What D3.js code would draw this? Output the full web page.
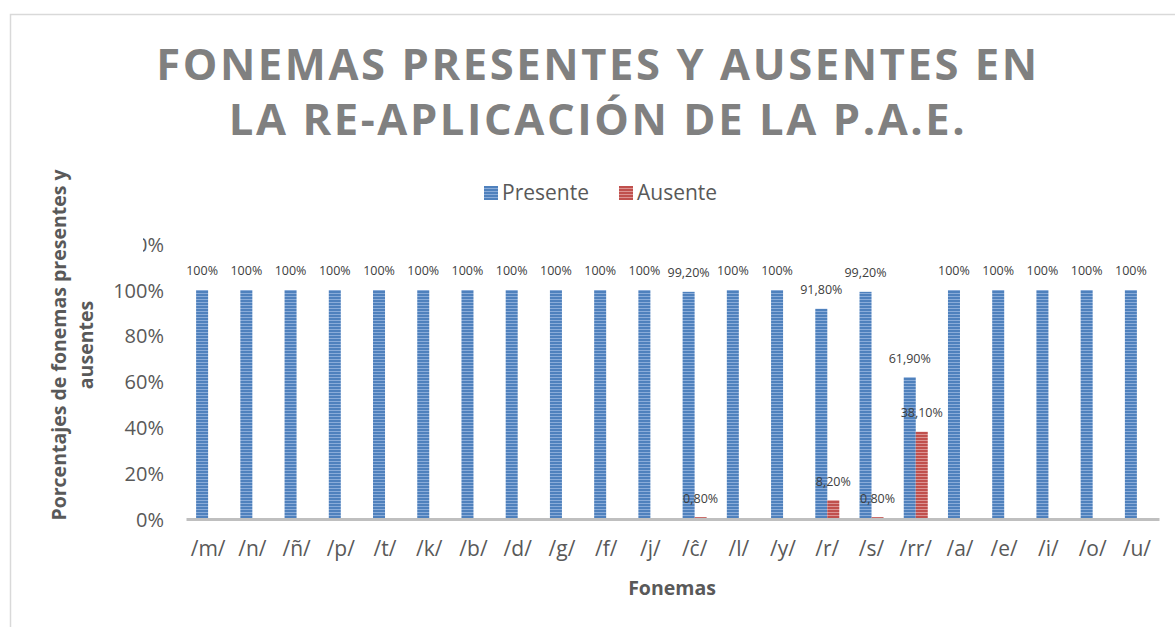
<!DOCTYPE html>
<html><head><meta charset="utf-8">
<script src="https://cdn.jsdelivr.net/npm/d3@7"></script>
<style>body{margin:0;background:#fff}svg{display:block}</style>
</head><body>
<svg id="c" width="1175" height="627"></svg>
<script>
const categories = ["/m/","/n/","/ñ/","/p/","/t/","/k/","/b/","/d/","/g/","/f/","/j/","/ĉ/","/l/","/y/","/r/","/s/","/rr/","/a/","/e/","/i/","/o/","/u/"];
const presente = [100,100,100,100,100,100,100,100,100,100,100,99.2,100,100,91.8,99.2,61.9,100,100,100,100,100];
const ausente  = [0,0,0,0,0,0,0,0,0,0,0,0.8,0,0,8.2,0.8,38.1,0,0,0,0,0];
const seriesNames = ["Presente","Ausente"];
const yTicks = [0,20,40,60,80,100,120];
const titleLines = ["FONEMAS PRESENTES Y AUSENTES EN","LA RE-APLICACIÓN DE LA P.A.E."];
const yTitleLines = ["Porcentajes de fonemas presentes y","ausentes"];
const xTitle = "Fonemas";

const svg = d3.select("#c");
const F = "'Open Sans', sans-serif";
const colors = ["#4F81BD","#C0504D"];
const stripe = ["#8AACD9","#DC9492"];

const defs = svg.append("defs");
colors.forEach((c,i)=>{
  const p = defs.append("pattern").attr("id","pat"+i).attr("patternUnits","userSpaceOnUse")
    .attr("width",8).attr("height",3);
  p.append("rect").attr("width",8).attr("height",3).attr("fill",c);
  p.append("rect").attr("y",2).attr("width",8).attr("height",1).attr("fill",stripe[i]);
});
const cp = defs.append("clipPath").attr("id","yclip");
cp.append("rect").attr("x",143).attr("y",0).attr("width",200).attr("height",262);
cp.append("rect").attr("x",0).attr("y",262).attr("width",400).attr("height",365);

// outer border
svg.append("rect").attr("x",10.5).attr("y",14.5).attr("width",1300).attr("height",800)
  .attr("fill","none").attr("stroke","#D9D9D9").attr("stroke-width",1.5);

// title
const title = svg.append("text").attr("text-anchor","middle").attr("fill","#808080")
  .attr("font-family",F).attr("font-weight",700).attr("font-size",43.5).attr("letter-spacing",2.6);
titleLines.forEach((t,i)=>title.append("tspan").attr("x",598).attr("y",80+i*55).text(t));

const x0 = d3.scaleBand().domain(categories).range([186,1159]).paddingInner(0.457).paddingOuter(0.2285);
const x1 = d3.scaleBand().domain([0,1]).range([0,x0.bandwidth()]);
const y = d3.scaleLinear().domain([0,120]).range([519,244.2]);

// y axis labels (top one partly hidden, like the reference)
const yWrap = svg.append("g").attr("clip-path","url(#yclip)");
const yAxis = yWrap.append("g").attr("transform","translate(164,0)")
  .call(d3.axisLeft(y).tickValues(yTicks).tickSize(0).tickPadding(0).tickFormat(d=>d+"%"));
yAxis.select(".domain").remove();
yAxis.selectAll("text").attr("font-family",F).attr("font-size",20).attr("fill","#595959").attr("dy","0.35em");

// bars
const data = [presente, ausente];
data.forEach((arr,s)=>{
  svg.append("g").selectAll("rect").data(arr).join("rect")
    .attr("x",(d,i)=>x0(categories[i])+x1(s))
    .attr("width",x1.bandwidth())
    .attr("y",d=>y(d))
    .attr("height",d=>y(0)-y(d))
    .attr("fill","url(#pat"+s+")");
});

// x axis
const xAxis = svg.append("g").attr("transform","translate(0,519)")
  .call(d3.axisBottom(x0).tickSize(0).tickPadding(22));
xAxis.select(".domain").attr("stroke","#BFBFBF").attr("stroke-width",3);
xAxis.selectAll("text").attr("font-family",F).attr("font-size",21).attr("fill","#595959");

// data labels
const fmt = v => v===100 ? "100%" : v.toFixed(2).replace(".",",")+"%";
data.forEach((arr,s)=>{
  svg.append("g").selectAll("text").data(arr.map((v,i)=>({v,i})).filter(d=>d.v>0)).join("text")
    .attr("x",d=>x0(categories[d.i])+x1(s)+x1.bandwidth()/2)
    .attr("y",d=>y(d.v)-19)
    .attr("dy","0.35em")
    .attr("text-anchor","middle")
    .attr("font-family",F).attr("font-size",12.5).attr("fill","#404040")
    .text(d=>fmt(d.v));
});

// legend
const leg = svg.append("g").attr("font-family",F).attr("font-size",21).attr("fill","#595959");
const legX = [484,619];
seriesNames.forEach((n,i)=>{
  leg.append("rect").attr("x",legX[i]).attr("y",186).attr("width",14).attr("height",14).attr("fill","url(#pat"+i+")");
  leg.append("text").attr("x",legX[i]+18).attr("y",193).attr("dy","0.35em").text(n);
});

// axis titles
const yt = svg.append("text").attr("transform","rotate(-90)").attr("text-anchor","middle")
  .attr("font-family",F).attr("font-weight",700).attr("font-size",19.5).attr("fill","#595959");
yTitleLines.forEach((t,i)=>yt.append("tspan").attr("x",-345).attr("y",66+i*27).text(t));

svg.append("text").attr("x",672).attr("y",595).attr("text-anchor","middle")
  .attr("font-family",F).attr("font-weight",700).attr("font-size",19.5).attr("fill","#595959").text(xTitle);
</script>
</body></html>
